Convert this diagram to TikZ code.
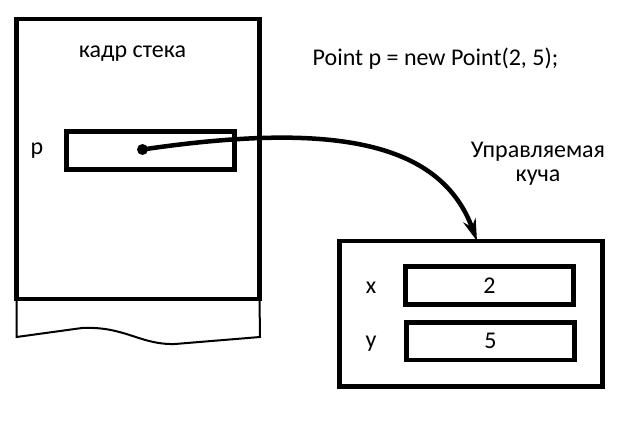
\documentclass[tikz,border=0pt]{standalone}
\usepackage{fontspec}
\setmainfont{Carlito}
\usetikzlibrary{arrows.meta}

\begin{document}
\begin{tikzpicture}[x=1pt,y=-1pt,line width=4.5pt,
  every node/.style={font=\fontsize{24}{24}\selectfont},
  frame/.style={draw,rectangle,inner sep=0pt,outer sep=0pt},
  field/.style={frame,minimum width=168pt,minimum height=38pt},
  lbl/.style={inner sep=0pt}]
  \useasboundingbox (0,0) rectangle (626,433);

  \node[frame,minimum width=243pt,minimum height=280pt]	(stack)	at (138,159)	{};
  \node[lbl,anchor=base]	(title)	at (132.5,58)	{кадр стека};
  \node[field]		(pbox)	at (150.5,150.5)	{};
  \node[lbl]		(plab)	[left of=pbox,node distance=113.5pt]	{p};
  \node[circle,fill,inner sep=0pt,minimum size=11pt]	(dot)	at (142.5,149.5)	{};
  \draw[line width=2pt] (stack.south west) -- ++(0,38) -- (82,328)
	.. controls (125,326) and (140,345) .. (175,344) -- (260,337) -- (stack.south east);

  \node[lbl,anchor=base]	(code)	at (435.5,66)	{Point p = new Point(2, 5);};
  \node[lbl,align=center]	(heaplab)	at (538,164)	{Управляемая\\куча};

  \node[frame,minimum width=263pt,minimum height=145.5pt]	(heap)	at (471,313.75)	{};
  \node[field]		(xbox)	at (489.5,285.5)	{2};
  \node[field,minimum height=37.5pt]	(ybox)	at (490.5,341.25)	{5};
  \node[lbl,yshift=-2pt]	(xlab)	[left of=xbox,node distance=118.5pt]	{x};
  \node[lbl,yshift=-2pt]	(ylab)	[left of=ybox,node distance=119.5pt]	{y};

  \coordinate (tip) at ([xshift=6pt]heap.north);
  \draw[-{Stealth[length=22pt,width=13pt]}] (dot.center) .. controls (330,122) and (440,140) .. (tip);
\end{tikzpicture}
\end{document}
